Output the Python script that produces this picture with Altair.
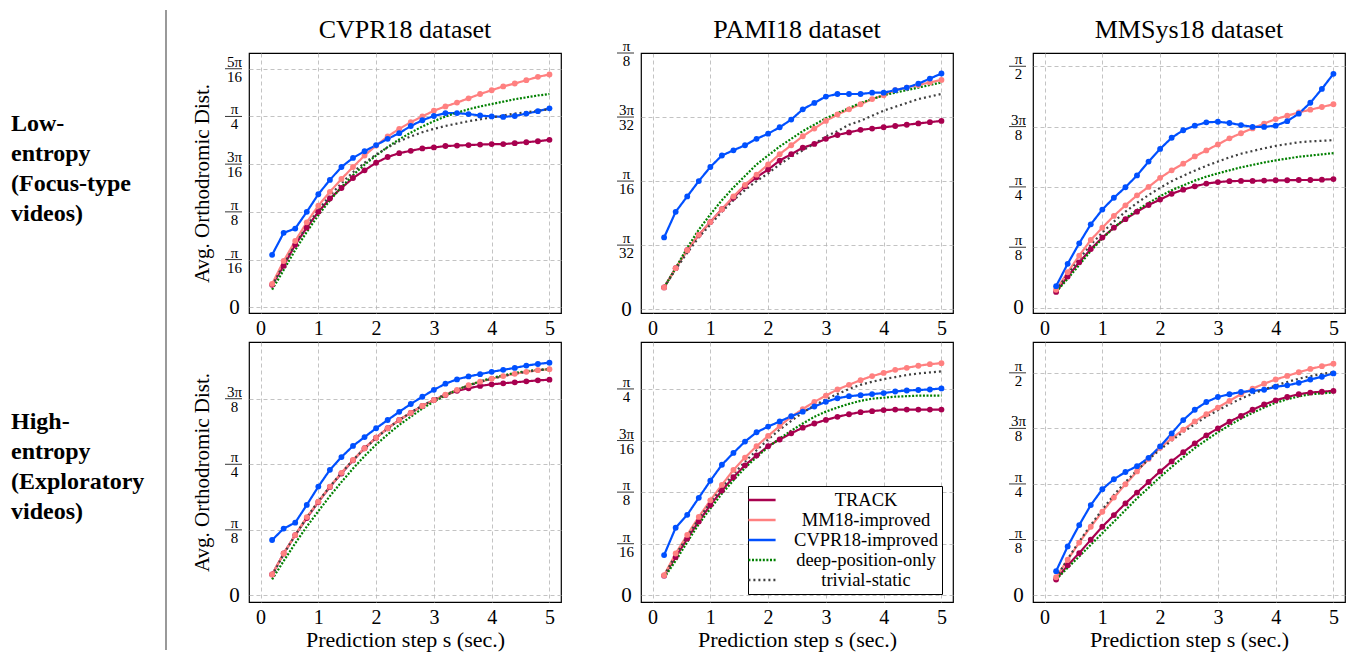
import altair as alt
import pandas as pd

SERIF = "Liberation Serif"

# prediction steps (seconds)
STEPS = [0.2, 0.4, 0.6, 0.8, 1.0, 1.2, 1.4, 1.6, 1.8, 2.0, 2.2, 2.4, 2.6,
         2.8, 3.0, 3.2, 3.4, 3.6, 3.8, 4.0, 4.2, 4.4, 4.6, 4.8, 5.0]

SERIES = ["TRACK", "MM18-improved", "CVPR18-improved",
          "deep-position-only", "trivial-static"]
COLORS = ["#a8004f", "#ff8080", "#0050ff", "#008000", "#404040"]
DASHES = [[1, 0], [1, 0], [1, 0], [2, 1.6], [2, 3]]

# all distances below are in units of pi/16 rad
cvpr_low = {
    "TRACK": [0.47, 0.87, 1.31, 1.67, 2.00, 2.28, 2.50, 2.71, 2.87, 3.03, 3.15, 3.23, 3.28,
              3.33, 3.35, 3.38, 3.39, 3.40, 3.41, 3.42, 3.42, 3.44, 3.46, 3.48, 3.51],
    "MM18-improved": [0.49, 0.97, 1.39, 1.78, 2.13, 2.42, 2.69, 2.94, 3.18, 3.39, 3.58, 3.74, 3.88,
                      4.00, 4.12, 4.21, 4.29, 4.38, 4.47, 4.55, 4.63, 4.69, 4.76, 4.83, 4.88],
    "CVPR18-improved": [1.10, 1.56, 1.65, 2.00, 2.37, 2.67, 2.94, 3.13, 3.27, 3.40, 3.53, 3.65, 3.80,
                        3.92, 4.01, 4.07, 4.07, 4.05, 4.02, 4.00, 3.99, 4.01, 4.06, 4.11, 4.17],
    "deep-position-only": [0.37, 0.78, 1.20, 1.58, 1.93, 2.24, 2.52, 2.77, 2.99, 3.18, 3.36, 3.52, 3.66,
                           3.79, 3.90, 4.00, 4.08, 4.15, 4.21, 4.26, 4.31, 4.36, 4.40, 4.44, 4.47],
    "trivial-static": [0.45, 0.90, 1.32, 1.70, 2.04, 2.34, 2.60, 2.83, 3.03, 3.20, 3.35, 3.48, 3.58,
                       3.67, 3.74, 3.80, 3.85, 3.90, 3.94, 3.98, 4.02, 4.06, 4.09, 4.12, 4.15],
}
pami_low = {
    "TRACK": [0.17, 0.32, 0.46, 0.58, 0.68, 0.78, 0.87, 0.96, 1.03, 1.09, 1.16, 1.21, 1.26,
              1.29, 1.33, 1.36, 1.38, 1.40, 1.41, 1.42, 1.43, 1.44, 1.45, 1.46, 1.47],
    "MM18-improved": [0.17, 0.32, 0.46, 0.58, 0.68, 0.78, 0.88, 0.97, 1.05, 1.13, 1.21, 1.28, 1.35,
                      1.41, 1.47, 1.52, 1.56, 1.60, 1.64, 1.67, 1.71, 1.73, 1.75, 1.77, 1.79],
    "CVPR18-improved": [0.56, 0.76, 0.88, 1.00, 1.11, 1.20, 1.24, 1.28, 1.33, 1.37, 1.42, 1.48, 1.56,
                        1.61, 1.66, 1.68, 1.68, 1.68, 1.69, 1.69, 1.71, 1.73, 1.76, 1.80, 1.84],
    "deep-position-only": [0.17, 0.32, 0.48, 0.62, 0.74, 0.85, 0.95, 1.04, 1.13, 1.20, 1.27, 1.33, 1.39,
                           1.44, 1.49, 1.53, 1.57, 1.61, 1.64, 1.67, 1.69, 1.71, 1.73, 1.75, 1.77],
    "trivial-static": [0.17, 0.31, 0.44, 0.56, 0.66, 0.76, 0.85, 0.93, 1.00, 1.06, 1.13, 1.19, 1.24,
                       1.29, 1.35, 1.39, 1.44, 1.47, 1.51, 1.55, 1.58, 1.61, 1.64, 1.66, 1.68],
}
mmsys_low = {
    "TRACK": [0.52, 1.03, 1.50, 1.94, 2.32, 2.65, 2.93, 3.18, 3.40, 3.58, 3.77, 3.91, 4.02,
              4.11, 4.16, 4.19, 4.20, 4.20, 4.21, 4.22, 4.22, 4.23, 4.23, 4.24, 4.26],
    "MM18-improved": [0.59, 1.17, 1.72, 2.24, 2.65, 3.04, 3.39, 3.72, 4.00, 4.30, 4.55, 4.77, 5.01,
                      5.21, 5.41, 5.61, 5.78, 5.94, 6.10, 6.25, 6.36, 6.47, 6.56, 6.65, 6.74],
    "CVPR18-improved": [0.71, 1.45, 2.13, 2.76, 3.25, 3.64, 3.99, 4.38, 4.84, 5.26, 5.63, 5.88, 6.03,
                        6.14, 6.16, 6.12, 6.05, 5.99, 5.99, 6.03, 6.18, 6.43, 6.79, 7.25, 7.75],
    "deep-position-only": [0.52, 0.95, 1.41, 1.88, 2.29, 2.65, 2.96, 3.23, 3.47, 3.69, 3.89, 4.05, 4.21,
                           4.34, 4.45, 4.55, 4.65, 4.73, 4.81, 4.88, 4.94, 5.00, 5.04, 5.08, 5.12],
    "trivial-static": [0.57, 1.10, 1.61, 2.08, 2.49, 2.85, 3.18, 3.47, 3.73, 3.97, 4.19, 4.37, 4.54,
                       4.70, 4.84, 4.98, 5.10, 5.19, 5.28, 5.36, 5.42, 5.48, 5.51, 5.53, 5.55],
}
cvpr_high = {
    "TRACK": [0.64, 1.28, 1.84, 2.36, 2.85, 3.31, 3.72, 4.12, 4.49, 4.81, 5.10, 5.35, 5.57,
              5.78, 5.96, 6.11, 6.24, 6.32, 6.39, 6.44, 6.47, 6.50, 6.53, 6.56, 6.58],
    "MM18-improved": [0.64, 1.28, 1.84, 2.39, 2.86, 3.32, 3.74, 4.13, 4.49, 4.81, 5.10, 5.35, 5.57,
                      5.78, 5.96, 6.12, 6.27, 6.41, 6.52, 6.61, 6.69, 6.76, 6.82, 6.87, 6.90],
    "CVPR18-improved": [1.69, 2.04, 2.22, 2.76, 3.32, 3.83, 4.22, 4.56, 4.83, 5.10, 5.35, 5.60, 5.84,
                        6.06, 6.27, 6.46, 6.59, 6.68, 6.75, 6.82, 6.88, 6.94, 7.01, 7.06, 7.10],
    "deep-position-only": [0.49, 1.05, 1.59, 2.10, 2.57, 3.03, 3.46, 3.87, 4.25, 4.60, 4.91, 5.20, 5.45,
                           5.70, 5.91, 6.10, 6.27, 6.41, 6.53, 6.63, 6.71, 6.79, 6.84, 6.88, 6.90],
    "trivial-static": [0.60, 1.26, 1.84, 2.38, 2.87, 3.32, 3.74, 4.13, 4.48, 4.80, 5.09, 5.35, 5.58,
                       5.79, 5.97, 6.13, 6.27, 6.40, 6.51, 6.61, 6.69, 6.76, 6.82, 6.87, 6.91],
}
pami_high = {
    "TRACK": [0.38, 0.74, 1.10, 1.43, 1.75, 2.03, 2.29, 2.52, 2.71, 2.89, 3.02, 3.14, 3.25,
              3.33, 3.40, 3.46, 3.51, 3.55, 3.57, 3.59, 3.60, 3.60, 3.60, 3.60, 3.60],
    "MM18-improved": [0.39, 0.81, 1.17, 1.52, 1.84, 2.14, 2.43, 2.67, 2.89, 3.09, 3.28, 3.46, 3.61,
                      3.75, 3.87, 3.99, 4.08, 4.17, 4.25, 4.31, 4.37, 4.41, 4.45, 4.48, 4.50],
    "CVPR18-improved": [0.78, 1.31, 1.56, 1.89, 2.22, 2.53, 2.76, 2.98, 3.16, 3.27, 3.37, 3.47, 3.56,
                        3.66, 3.75, 3.82, 3.86, 3.88, 3.90, 3.92, 3.95, 3.97, 3.98, 3.99, 4.01],
    "deep-position-only": [0.34, 0.67, 1.03, 1.38, 1.68, 1.97, 2.23, 2.47, 2.68, 2.87, 3.04, 3.19, 3.33,
                           3.46, 3.56, 3.64, 3.71, 3.77, 3.81, 3.83, 3.85, 3.86, 3.87, 3.87, 3.87],
    "trivial-static": [0.38, 0.78, 1.14, 1.48, 1.80, 2.08, 2.35, 2.59, 2.81, 3.02, 3.21, 3.38, 3.54,
                       3.68, 3.80, 3.90, 4.00, 4.08, 4.14, 4.19, 4.23, 4.27, 4.30, 4.32, 4.34],
}
mmsys_high = {
    "TRACK": [0.56, 1.07, 1.51, 1.99, 2.46, 2.88, 3.30, 3.69, 4.07, 4.45, 4.81, 5.14, 5.46,
              5.75, 6.00, 6.24, 6.45, 6.67, 6.86, 7.01, 7.13, 7.23, 7.29, 7.32, 7.35],
    "MM18-improved": [0.64, 1.27, 1.89, 2.46, 3.00, 3.51, 3.99, 4.45, 4.90, 5.30, 5.64, 5.95, 6.25,
                      6.51, 6.75, 6.99, 7.23, 7.43, 7.61, 7.76, 7.89, 8.02, 8.14, 8.24, 8.33],
    "CVPR18-improved": [0.86, 1.75, 2.52, 3.24, 3.81, 4.17, 4.43, 4.64, 4.94, 5.35, 5.82, 6.30, 6.67,
                        6.95, 7.13, 7.23, 7.31, 7.35, 7.39, 7.50, 7.55, 7.64, 7.76, 7.86, 7.98],
    "deep-position-only": [0.56, 0.98, 1.39, 1.81, 2.23, 2.64, 3.06, 3.48, 3.86, 4.25, 4.61, 4.96, 5.29,
                           5.58, 5.86, 6.11, 6.35, 6.56, 6.75, 6.92, 7.05, 7.15, 7.23, 7.26, 7.29],
    "trivial-static": [0.62, 1.30, 1.93, 2.52, 3.08, 3.60, 4.07, 4.49, 4.88, 5.24, 5.56, 5.87, 6.15,
                       6.42, 6.65, 6.87, 7.07, 7.25, 7.40, 7.55, 7.67, 7.79, 7.88, 7.96, 8.02],
}

# y ticks (pi/16 units) and their fraction labels
TICKS_16 = [0, 1, 2, 3, 4, 5]
LABELS_16 = [["0"], ["π", "16"], ["π", "8"], ["3π", "16"], ["π", "4"], ["5π", "16"]]
TICKS_32 = [0, 0.5, 1, 1.5, 2]
LABELS_32 = [["0"], ["π", "32"], ["π", "16"], ["3π", "32"], ["π", "8"]]
TICKS_8 = [0, 2, 4, 6, 8]
LABELS_8 = [["0"], ["π", "8"], ["π", "4"], ["3π", "8"], ["π", "2"]]
TICKS_8S = [0, 2, 4, 6]
LABELS_8S = [["0"], ["π", "8"], ["π", "4"], ["3π", "8"]]
TICKS_16S = [0, 1, 2, 3, 4]
LABELS_16S = [["0"], ["π", "16"], ["π", "8"], ["3π", "16"], ["π", "4"]]

X_TICKS = [0, 1, 2, 3, 4, 5]
TITLES = ["CVPR18 dataset", "PAMI18 dataset", "MMSys18 dataset"]
ROW_LABELS = [["Low-", "entropy", "(Focus-type", "videos)"],
              ["High-", "entropy", "(Exploratory", "videos)"]]
Y_TITLE = "Avg. Orthodromic Dist."
X_TITLE = "Prediction step s (sec.)"

PW, PH = 312, 260
GRID_COLOR = "#b4b4b4"
ONE = pd.DataFrame({"k": [0]})


def label_expr(ticks, labels):
    expr = "''"
    for v, lab in reversed(list(zip(ticks, labels))):
        if len(lab) == 1:
            s = "'%s'" % lab[0]
        else:
            s = "[" + ",".join("'%s'" % p for p in lab) + "]"
        expr = "datum.value == %s ? %s : (%s)" % (v, s, expr)
    return expr


def row_label(lines, y):
    return alt.Chart(ONE).mark_text(
        text=lines, align="left", baseline="middle", font=SERIF, fontSize=24,
        fontWeight="bold", lineHeight=30, color="black").encode(x=alt.value(-238), y=alt.value(y))


def panel_title(text):
    return alt.Chart(ONE).mark_text(
        text=text, align="center", baseline="middle", font=SERIF, fontSize=26,
        color="black").encode(x=alt.value(PW / 2), y=alt.value(-23))


def panel(data, dom, ticks, labels, xtitle=None, ytitle=None, legend=None, extra=()):
    rows = []
    for s in SERIES:
        for x, y in zip(STEPS, data[s]):
            rows.append({"x": x, "y": y, "series": s})
    df = pd.DataFrame(rows)
    bar_df = pd.DataFrame({"y": [v for v, lab in zip(ticks, labels) if len(lab) == 2]})

    xaxis = alt.Axis(values=X_TICKS, domain=False, ticks=False, tickSize=0, labelFont=SERIF,
                     labelFontSize=20, labelPadding=5, labelColor="black", labelFlush=False,
                     format="d", title=xtitle, titleFont=SERIF, titleFontSize=22,
                     titleFontWeight="normal", titleColor="black", titlePadding=2,
                     grid=True, gridDash=[4, 3], gridColor=GRID_COLOR, gridWidth=0.8)
    top_test = "datum.value >= %s" % dom[1]
    yaxis = alt.Axis(values=ticks, domain=False, ticks=False, tickSize=0,
                     labelExpr=label_expr(ticks, labels), labelFont=SERIF,
                     labelFontSize={"condition": {"test": "datum.value == 0", "value": 21}, "value": 15},
                     labelOffset={"condition": {"test": "datum.value == 0", "value": 0}, "value": -7.5},
                     labelLineHeight=15, labelAlign="center", labelBaseline="middle",
                     labelPadding=15, labelColor="black", labelFlush=False, labelOverlap=False,
                     title=ytitle, titleFont=SERIF, titleFontSize=21, titleFontWeight="normal",
                     titleColor="black", titlePadding=14, grid=True, gridWidth=0.8,
                     gridDash={"condition": {"test": top_test, "value": []}, "value": [4, 3]},
                     gridColor={"condition": {"test": top_test, "value": "black"}, "value": GRID_COLOR})
    X = alt.X("x:Q", scale=alt.Scale(domain=[-0.2, 5.2], nice=False, zero=False), axis=xaxis)
    Y = alt.Y("y:Q", scale=alt.Scale(domain=dom, nice=False, zero=False), axis=yaxis)
    color = alt.Color("series:N", scale=alt.Scale(domain=SERIES, range=COLORS), legend=legend)
    dash = alt.StrokeDash("series:N", scale=alt.Scale(domain=SERIES, range=DASHES), legend=legend)

    lines = alt.Chart(df).mark_line(strokeWidth=2.2).encode(x=X, y=Y, color=color, strokeDash=dash)
    pts = (alt.Chart(df)
           .transform_filter(alt.FieldOneOfPredicate(field="series", oneOf=SERIES[:3]))
           .mark_circle(size=34, opacity=1)
           .encode(x=X, y=Y, color=color))
    bars = (alt.Chart(bar_df).mark_rule(color="black", strokeWidth=0.8)
            .encode(y=Y, x=alt.value(-24), x2=alt.value(-7)))
    return alt.layer(lines, pts, bars, *extra).properties(
        width=PW, height=PH, view=alt.ViewBackground(stroke="black", strokeWidth=1.2))


legend = alt.Legend(title=None, orient="none", legendX=107, legendY=144,
                    symbolType="M-1.6,0L1.6,0", symbolSize=289, symbolStrokeWidth=2.5,
                    labelFont=SERIF, labelFontSize=18.5, labelColor="black", labelAlign="center",
                    labelOffset=94, labelLimit=300, strokeColor="black", fillColor="white",
                    padding=4, rowPadding=0, cornerRadius=0)

# separator line between the row labels and the panels
sep = alt.Chart(ONE).mark_rule(color="#808080", strokeWidth=1.6).encode(
    x=alt.value(-83), y=alt.value(-43), y2=alt.value(597))

p1 = panel(cvpr_low, [-0.12, 5.33], TICKS_16, LABELS_16, ytitle=Y_TITLE,
           extra=(sep, row_label(ROW_LABELS[0], 71), panel_title(TITLES[0])))
p2 = panel(pami_low, [-0.03, 2.0], TICKS_32, LABELS_32, extra=(panel_title(TITLES[1]),))
p3 = panel(mmsys_low, [-0.18, 8.44], TICKS_8, LABELS_8, extra=(panel_title(TITLES[2]),))
p4 = panel(cvpr_high, [-0.2, 7.73], TICKS_8S, LABELS_8S, xtitle=X_TITLE, ytitle=Y_TITLE,
           extra=(row_label(ROW_LABELS[1], 80),))
p5 = panel(pami_high, [-0.13, 4.91], TICKS_16S, LABELS_16S, xtitle=X_TITLE, legend=legend)
p6 = panel(mmsys_high, [-0.25, 9.11], TICKS_8, LABELS_8, xtitle=X_TITLE)

chart = (alt.concat(p1, p2, p3, p4, p5, p6, columns=3, spacing={"row": 29, "column": 80},
                    bounds="flush")
         .resolve_scale(color="independent", strokeDash="independent")
         .properties(padding={"left": 2, "top": 0, "right": 0, "bottom": 0}))

chart.save("out.html", embed_options={"renderer": "svg", "actions": False})
